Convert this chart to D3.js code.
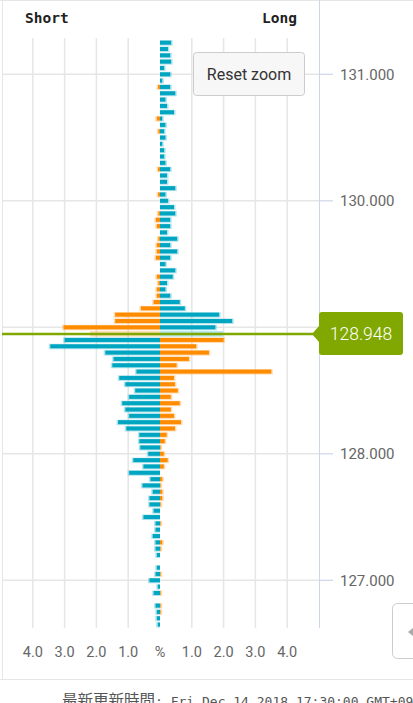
<!DOCTYPE html>
<html><head><meta charset="utf-8">
<script src="https://cdn.jsdelivr.net/npm/d3@7/dist/d3.min.js"></script>
<style>body{margin:0;background:#fff;overflow:hidden}</style>
</head><body>
<svg id="c" width="413" height="703"></svg>
<script>
// price levels (categories)
const prices = [131.25,131.20,131.15,131.10,131.05,131.00,130.95,130.90,130.85,130.80,
130.75,130.70,130.65,130.60,130.55,130.50,130.45,130.40,130.35,130.30,
130.25,130.20,130.15,130.10,130.05,130.00,129.95,129.90,129.85,129.80,
129.75,129.70,129.65,129.60,129.55,129.50,129.45,129.40,129.35,129.30,
129.25,129.20,129.15,129.10,129.05,129.00,128.95,128.90,128.85,128.80,
128.75,128.70,128.65,128.60,128.55,128.50,128.45,128.40,128.35,128.30,
128.25,128.20,128.15,128.10,128.05,128.00,127.95,127.90,127.85,127.80,
127.75,127.70,127.65,127.60,127.55,127.50,127.45,127.40,127.35,127.30,
127.25,127.20,127.15,127.10,127.05,127.00,126.95,126.90,126.85,126.80,
126.75,126.70,126.65];
// short side (%)
const shortPct = [0,0,0,0,0,0,0,0.06,0,0,
0,0,0.10,0,0.05,0,0,0,0,0,
0.06,0,0,0,0.06,0,0,0.05,0.13,0.10,
0,0.05,0.10,0.10,0.13,0,0,0.10,0.05,0.10,
0.10,0.20,0.60,1.41,1.41,3.03,2.15,3.00,3.45,1.72,
1.46,1.50,0.74,1.28,1.09,0.78,0.97,1.19,1.09,0.97,
1.32,1.06,0.65,0.65,0.62,0.37,0.84,0.52,0.97,0.30,
0.55,0.23,0.33,0.33,0.20,0.52,0.14,0.14,0.23,0.14,
0.14,0.10,0,0.10,0.14,0.33,0.07,0.20,0,0.14,
0.10,0.10,0.07];
// long side (%)
const longPct = [0.35,0.25,0.32,0.35,0.13,0.32,0.07,0.32,0.48,0.17,
0.22,0.44,0.07,0.17,0.13,0.17,0.07,0.13,0.13,0.17,
0.32,0.22,0.22,0.48,0.17,0.25,0.44,0.48,0.32,0.32,
0.22,0.54,0.32,0.54,0.32,0.17,0.48,0.40,0.22,0.17,
0.32,0.62,0.78,1.86,2.27,1.74,1.93,2.00,1.14,1.54,
0.91,0.52,3.50,0.44,0.47,0.56,0.34,0.62,0.34,0.44,
0.66,0.47,0.21,0.15,0.02,0.12,0.24,0.12,0,0.07,
0.02,0.07,0.07,0.02,0,0,0.02,0,0,0.07,
0.02,0,0,0,0.02,0,0,0.02,0,0.02,
0.02,0,0];
const currentPrice = 128.948;
const xTickVals = [-4,-3,-2,-1,0,1,2,3,4];
const yTickVals = [127,128,129,130,131];

const TEAL = "#00a5c1", ORANGE = "#ff8c00", GREEN = "#80a800";
const svg = d3.select("#c");
const x = d3.scaleLinear().domain([-5,5]).range([1,319]);
const y = d3.scaleLinear().domain([126.623,131.287]).range([628,38]);

// frame
svg.append("line").attr("x1",0).attr("x2",413).attr("y1",0.5).attr("y2",0.5).attr("stroke","#e6e6e6");
svg.append("line").attr("x1",2.5).attr("x2",2.5).attr("y1",0).attr("y2",679).attr("stroke","#e6e6e6");
svg.append("line").attr("x1",0).attr("x2",413).attr("y1",679.5).attr("y2",679.5).attr("stroke","#e6e6e6");

// vertical grid
svg.append("g").selectAll("line").data(xTickVals.filter(d=>d!==0)).join("line")
  .attr("x1",d=>x(d)).attr("x2",d=>x(d)).attr("y1",38).attr("y2",628)
  .attr("stroke","#e6e6e6").attr("stroke-width",1.5);
// horizontal grid + ticks
svg.append("g").selectAll("line").data(yTickVals).join("line")
  .attr("x1",2).attr("x2",319).attr("y1",d=>y(d)).attr("y2",d=>y(d))
  .attr("stroke","#e6e6e6").attr("stroke-width",1.5);
svg.append("g").selectAll("line").data(yTickVals).join("line")
  .attr("x1",319).attr("x2",333).attr("y1",d=>y(d)).attr("y2",d=>y(d))
  .attr("stroke","#ccd6eb").attr("stroke-width",1.2);
svg.append("line").attr("x1",319.5).attr("x2",319.5).attr("y1",0).attr("y2",628).attr("stroke","#ccd6eb");
// labels (the one hidden behind the current-price flag is not drawn)
svg.append("g").selectAll("text").data(yTickVals.filter(d=>Math.abs(y(d)-y(currentPrice))>25)).join("text")
  .attr("x",340).attr("y",d=>y(d)).attr("dy","0.35em")
  .attr("font-family","Roboto, sans-serif").attr("font-size",15).attr("fill","#666")
  .text(d=>d3.format(".3f")(d));

// x labels
svg.append("g").selectAll("text").data(xTickVals).join("text")
  .attr("x",d=>x(d)).attr("y",657).attr("text-anchor","middle")
  .attr("font-family","Roboto, sans-serif").attr("font-size",14.5).attr("fill","#666")
  .text(d=>d===0?"%":d3.format(".1f")(Math.abs(d)));

// bars
const rows = prices.map((p,i)=>({p, s:shortPct[i], l:longPct[i], above:p>currentPrice}));
const bh = 4;
const g = svg.append("g");
rows.forEach(r=>{
  const cy = y(r.p);
  const sCol = r.above?ORANGE:TEAL, lCol = r.above?TEAL:ORANGE;
  const isCur = Math.abs(r.p-currentPrice)<0.025;
  if (r.s>0){
    g.append("rect").attr("x",x(-r.s)-1.5).attr("y",cy-bh/2-0.5).attr("width",x(0)-x(-r.s)+1.5).attr("height",bh+1.5)
      .attr("fill",sCol).attr("opacity",0.3);
    if(!isCur) g.append("rect").attr("x",x(-r.s)).attr("y",cy-bh/2).attr("width",x(0)-x(-r.s)).attr("height",bh).attr("fill",sCol);
  }
  if (r.l>0){
    g.append("rect").attr("x",x(0)).attr("y",cy-bh/2-0.5).attr("width",x(r.l)-x(0)+1.5).attr("height",bh+1.5)
      .attr("fill",lCol).attr("opacity",0.3);
    if(!isCur) g.append("rect").attr("x",x(0)).attr("y",cy-bh/2).attr("width",x(r.l)-x(0)).attr("height",bh).attr("fill",lCol);
  }
});

// current price line + label
const cyP = y(currentPrice);
svg.append("line").attr("x1",2).attr("x2",318).attr("y1",cyP).attr("y2",cyP).attr("stroke",GREEN).attr("stroke-width",2.5);
svg.append("path").attr("d",`M312,${cyP} L319,${cyP-8} L319,${cyP+8} Z`).attr("fill",GREEN);
svg.append("rect").attr("x",319).attr("y",cyP-22).attr("width",84).attr("height",43).attr("rx",3).attr("fill",GREEN);
svg.append("text").attr("x",361).attr("y",cyP).attr("dy","0.36em").attr("text-anchor","middle")
  .attr("font-family","Roboto, sans-serif").attr("font-weight",300).attr("font-size",17.5).attr("fill","#fff")
  .text(d3.format(".3f")(currentPrice));

// headers
svg.append("text").attr("x",25).attr("y",23).attr("font-family","'DejaVu Sans Mono', monospace").attr("font-weight","bold")
  .attr("font-size",14.5).attr("fill","#222").text("Short");
svg.append("text").attr("x",297).attr("y",23).attr("text-anchor","end").attr("font-family","'DejaVu Sans Mono', monospace").attr("font-weight","bold")
  .attr("font-size",14.5).attr("fill","#222").text("Long");

// reset zoom button
svg.append("rect").attr("x",193.5).attr("y",52.5).attr("width",111).attr("height",43).attr("rx",3)
  .attr("fill","#f7f7f7").attr("stroke","#cccccc");
svg.append("text").attr("x",249).attr("y",74).attr("dy","0.35em").attr("text-anchor","middle")
  .attr("font-family","Roboto, sans-serif").attr("font-size",16).attr("fill","#333").text("Reset zoom");

// partial navigator button
svg.append("rect").attr("x",392.5).attr("y",603.5).attr("width",40).attr("height",55).attr("rx",5)
  .attr("fill","#fff").attr("stroke","#cccccc");
svg.append("path").attr("d","M408,632 L413,628 L413,636 Z").attr("fill","#aaa");

// footer (cut by the bottom edge, as in the reference)
const ft = svg.append("text").attr("x",62).attr("y",706).attr("fill","#555");
ft.append("tspan").attr("font-family","'Noto Sans CJK JP', sans-serif").attr("font-size",15.5).text("最新更新時間");
ft.append("tspan").attr("font-family","'DejaVu Sans Mono', monospace").attr("font-size",13).text(": Fri Dec 14 2018 17:30:00 GMT+0900");
</script>
</body></html>
